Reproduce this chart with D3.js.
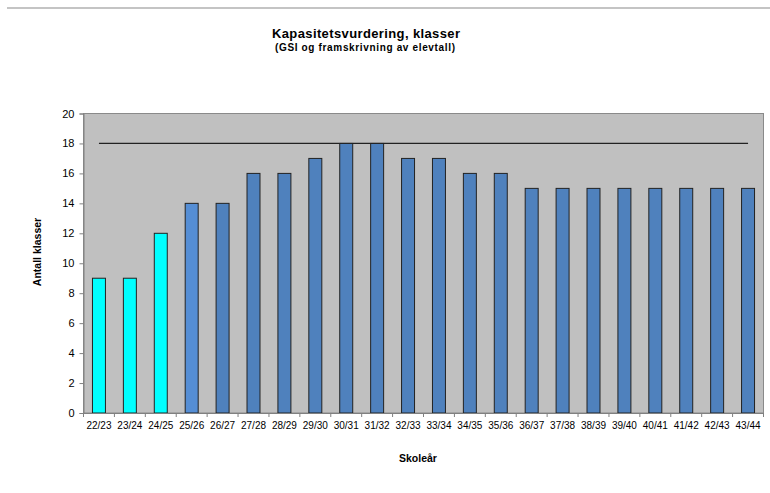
<!DOCTYPE html>
<html><head><meta charset="utf-8">
<script src="https://cdn.jsdelivr.net/npm/d3@7"></script>
<style>body{margin:0;background:#fff}svg{display:block}</style>
</head><body>
<script>
const categories = ["22/23","23/24","24/25","25/26","26/27","27/28","28/29","29/30","30/31","31/32","32/33","33/34","34/35","35/36","36/37","37/38","38/39","39/40","40/41","41/42","42/43","43/44"];
const values = [9,9,12,14,14,16,16,17,18,18,17,17,16,16,15,15,15,15,15,15,15,15];
const barColors = ["#00ffff","#00ffff","#00ffff","#558ed5","#4f81bd","#4f81bd","#4f81bd","#4f81bd","#4f81bd","#4f81bd","#4f81bd","#4f81bd","#4f81bd","#4f81bd","#4f81bd","#4f81bd","#4f81bd","#4f81bd","#4f81bd","#4f81bd","#4f81bd","#4f81bd"];
const capacity = 18;
const yTicks = [0,2,4,6,8,10,12,14,16,18,20];
const title = "Kapasitetsvurdering, klasser";
const subtitle = "(GSI og framskrivning av elevtall)";
const xTitle = "Skoleår";
const yTitle = "Antall klasser";

const W = 770, H = 493;
const svg = d3.select("body").append("svg").attr("width", W).attr("height", H);
const m = {left: 83.5, right: 763.5, top: 113.5, bottom: 413};
const font = "Liberation Sans, Arial, sans-serif";

// top gray rule
svg.append("line").attr("x1", 7).attr("x2", 770).attr("y1", 8).attr("y2", 8)
  .attr("stroke", "#c4c4c4").attr("stroke-width", 2);

const x = d3.scaleBand().domain(categories).range([m.left, m.right]).paddingInner(0.58).paddingOuter(0.29);
const xb = d3.scaleBand().domain(categories).range([m.left, m.right]);
const y = d3.scaleLinear().domain([0, 20]).range([m.bottom, m.top]);

svg.append("rect").attr("x", m.left).attr("y", m.top).attr("width", m.right - m.left).attr("height", m.bottom - m.top)
  .attr("fill", "#c0c0c0").attr("stroke", "#8a8a8a").attr("stroke-width", 1);

// capacity line
svg.append("line")
  .attr("x1", xb(categories[0]) + xb.bandwidth()/2)
  .attr("x2", xb(categories[categories.length-1]) + xb.bandwidth()/2)
  .attr("y1", y(capacity)).attr("y2", y(capacity))
  .attr("stroke", "#222").attr("stroke-width", 1.3);

svg.append("g").selectAll("rect").data(values).join("rect")
  .attr("x", (d,i) => x(categories[i]))
  .attr("width", x.bandwidth())
  .attr("y", d => y(d))
  .attr("height", d => y(0) - y(d))
  .attr("fill", (d,i) => barColors[i])
  .attr("stroke", "#222").attr("stroke-width", 1);

// y axis
const yAxis = svg.append("g").attr("transform", `translate(${m.left},0)`)
  .call(d3.axisLeft(y).tickValues(yTicks).tickSize(4).tickPadding(5));
yAxis.select(".domain").attr("stroke", "#808080");
yAxis.selectAll(".tick line").attr("stroke", "#808080");
yAxis.selectAll("text").attr("font-family", font).attr("font-size", 11).attr("fill", "#000");

// x axis with ticks between categories
const xAxis = svg.append("g").attr("transform", `translate(0,${m.bottom})`)
  .call(d3.axisBottom(xb).tickSize(0).tickPadding(9));
xAxis.select(".domain").attr("stroke", "#808080");
xAxis.selectAll("text").attr("font-family", font).attr("font-size", 10).attr("fill", "#000");
xAxis.selectAll(".sep").data(categories).join("line").attr("class", "sep")
  .attr("x1", d => xb(d) + xb.bandwidth()).attr("x2", d => xb(d) + xb.bandwidth())
  .attr("y1", 0).attr("y2", 4).attr("stroke", "#808080");
xAxis.append("line").attr("x1", m.left).attr("x2", m.left).attr("y1", 0).attr("y2", 4).attr("stroke", "#808080");

svg.append("text").attr("x", 366).attr("y", 38).attr("text-anchor", "middle")
  .attr("font-family", font).attr("font-weight", "bold").attr("font-size", 13).attr("textLength", 188).text(title);
svg.append("text").attr("x", 365).attr("y", 51).attr("text-anchor", "middle")
  .attr("font-family", font).attr("font-weight", "bold").attr("font-size", 10).attr("textLength", 180).text(subtitle);

svg.append("text").attr("x", 418).attr("y", 462).attr("text-anchor", "middle")
  .attr("font-family", font).attr("font-weight", "bold").attr("font-size", 10.5).text(xTitle);
svg.append("text").attr("transform", "translate(41,252) rotate(-90)").attr("text-anchor", "middle")
  .attr("font-family", font).attr("font-weight", "bold").attr("font-size", 10.5).text(yTitle);
</script>
</body></html>
